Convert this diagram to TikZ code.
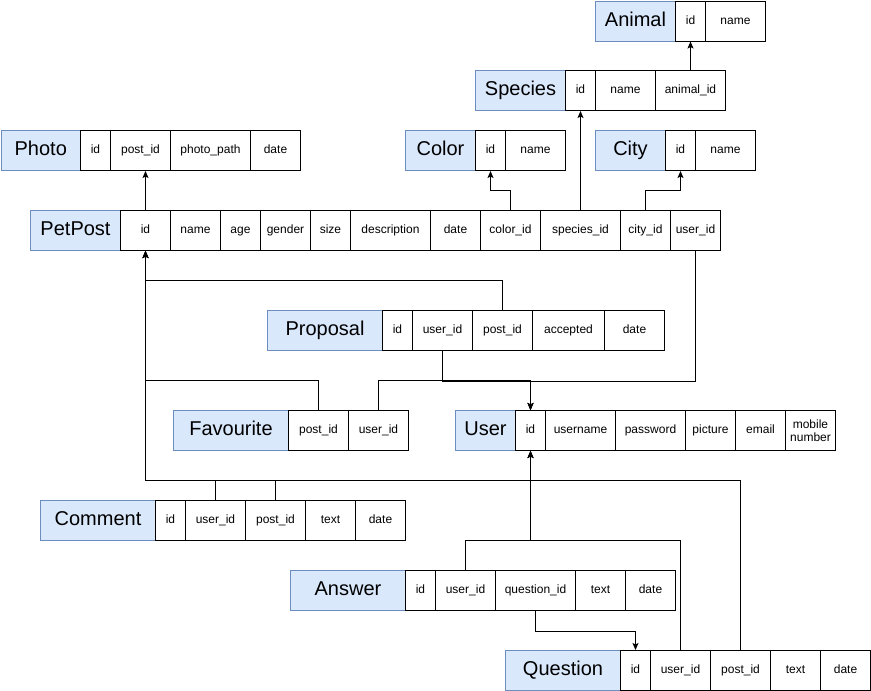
\documentclass[tikz,border=0pt]{standalone}
\usepackage{fontspec}
\setmainfont{Liberation Sans}
\usetikzlibrary{arrows.meta}
\definecolor{ttlfill}{HTML}{DAE8FC}
\definecolor{ttldraw}{HTML}{6C8EBF}
\tikzset{
  ttl/.style={draw=ttldraw, fill=ttlfill, line width=1pt, minimum height=40pt, inner sep=0pt, anchor=north west, text height=14.4pt, text depth=3.6pt, font=\fontsize{20}{24}\selectfont},
  cellbase/.style={draw=black, fill=white, line width=1pt, minimum height=40pt, inner sep=0pt, anchor=north west, font=\fontsize{12}{14}\selectfont},
  cell/.style={cellbase, text height=8.6pt, text depth=2.4pt},
  cellml/.style={cellbase, align=center, font=\fontsize{12}{13}\selectfont},
  fk/.style={draw=black, line width=1pt, line join=miter, -{Stealth[length=7pt,width=6pt,inset=1.5pt]}}
}
\newcommand{\ercell}[5]{\node[cell, minimum width=#4pt] (#1) at (#2,#3) {#5};}
\newcommand{\ertitle}[5]{\node[ttl, minimum width=#4pt] (#1) at (#2,#3) {#5};}
\begin{document}
\begin{tikzpicture}[x=1pt,y=-1pt]
\useasboundingbox (0,0) rectangle (871,691);
% Animal
\ertitle{animal}{595}{0.5}{80}{Animal}
\ercell{animalid}{675}{0.5}{30}{id}
\ercell{animalname}{705}{0.5}{60}{name}
% Species
\ertitle{species}{475}{70}{90}{Species}
\ercell{speciesid}{565}{70}{30}{id}
\ercell{speciesname}{595}{70}{60}{name}
\ercell{speciesanimal}{655}{70}{70}{animal\_id}
% Color
\ertitle{color}{405}{130}{70}{Color}
\ercell{colorid}{475}{130}{30}{id}
\ercell{colorname}{505}{130}{60}{name}
% City
\ertitle{city}{595}{130}{70}{City}
\ercell{cityid}{665}{130}{30}{id}
\ercell{cityname}{695}{130}{60}{name}
% Photo
\ertitle{photo}{0.5}{130}{79.5}{Photo}
\ercell{photoid}{80}{130}{30}{id}
\ercell{photopost}{110}{130}{60}{post\_id}
\ercell{photopath}{170}{130}{80}{photo\_path}
\ercell{photodate}{250}{130}{50}{date}
% PetPost
\ertitle{petpost}{30}{210}{90}{PetPost}
\ercell{ppid}{120}{210}{50}{id}
\ercell{ppname}{170}{210}{50}{name}
\ercell{ppage}{220}{210}{40}{age}
\ercell{ppgender}{260}{210}{50}{gender}
\ercell{ppsize}{310}{210}{40}{size}
\ercell{ppdesc}{350}{210}{80}{description}
\ercell{ppdate}{430}{210}{50}{date}
\ercell{ppcolor}{480}{210}{60}{color\_id}
\ercell{ppspecies}{540}{210}{80}{species\_id}
\ercell{ppcity}{620}{210}{50}{city\_id}
\ercell{ppuser}{670}{210}{50}{user\_id}
% Proposal
\ertitle{proposal}{267}{310}{115}{Proposal}
\ercell{propid}{382}{310}{30}{id}
\ercell{propuser}{412}{310}{60}{user\_id}
\ercell{proppost}{472}{310}{60}{post\_id}
\ercell{propacc}{532}{310}{72}{accepted}
\ercell{propdate}{604}{310}{60}{date}
% Favourite
\ertitle{favourite}{173}{410}{115}{Favourite}
\ercell{favpost}{288}{410}{60}{post\_id}
\ercell{favuser}{348}{410}{60}{user\_id}
% User
\ertitle{user}{455}{410}{60}{User}
\ercell{userid}{515}{410}{30}{id}
\ercell{username}{545}{410}{70}{username}
\ercell{userpass}{615}{410}{70}{password}
\ercell{userpic}{685}{410}{50}{picture}
\ercell{useremail}{735}{410}{50}{email}
\node[cellml, minimum width=50pt] (usermobile) at (785,410) {mobile\\number};
% Comment
\ertitle{comment}{40}{500}{115}{Comment}
\ercell{comid}{155}{500}{30}{id}
\ercell{comuser}{185}{500}{60}{user\_id}
\ercell{compost}{245}{500}{60}{post\_id}
\ercell{comtext}{305}{500}{50}{text}
\ercell{comdate}{355}{500}{50}{date}
% Answer
\ertitle{answer}{290}{570}{115}{Answer}
\ercell{ansid}{405}{570}{30}{id}
\ercell{ansuser}{435}{570}{60}{user\_id}
\ercell{ansq}{495}{570}{80}{question\_id}
\ercell{anstext}{575}{570}{50}{text}
\ercell{ansdate}{625}{570}{50}{date}
% Question
\ertitle{question}{505}{650}{115}{Question}
\ercell{qid}{620}{650}{30}{id}
\ercell{quser}{650}{650}{60}{user\_id}
\ercell{qpost}{710}{650}{60}{post\_id}
\ercell{qtext}{770}{650}{50}{text}
\ercell{qdate}{820}{650}{50}{date}
% connectors
\draw[fk] (speciesanimal.north) -- (speciesanimal.north |- animalid.south);
\draw[fk] (ppid.north) -- (ppid.north |- photopost.south);
\draw[fk] (ppcolor.north) -- ++(0,-20) -| (colorid.south);
\draw[fk] (ppspecies.north) -- (ppspecies.north |- speciesid.south);
\draw[fk] (ppcity.north) -- ++(0,-20) -| (cityid.south);
\draw[fk] (proppost.north) -- ++(0,-30) -| (ppid.south);
\draw[fk] (favpost.north) -- ++(0,-30) -| (ppid.south);
\draw[fk] (compost.north) -- ++(0,-20) -| (ppid.south);
\draw[fk] (qpost.north) -- ++(0,-170) -| (ppid.south);
\draw[fk] (favuser.north) -- ++(0,-30) -| (userid.north);
\draw[fk] (propuser.south) -- ++(0,30) -| (userid.north);
\draw[fk] (ppuser.south) -- ++(0,130) -| (userid.north);
\draw[fk] (comuser.north) -- ++(0,-20) -| (userid.south);
\draw[fk] (quser.north) -- ++(0,-110) -| (userid.south);
\draw[fk] (ansuser.north) -- ++(0,-30) -| (userid.south);
\draw[fk] (ansq.south) -- ++(0,20) -| (qid.north);
\end{tikzpicture}
\end{document}
